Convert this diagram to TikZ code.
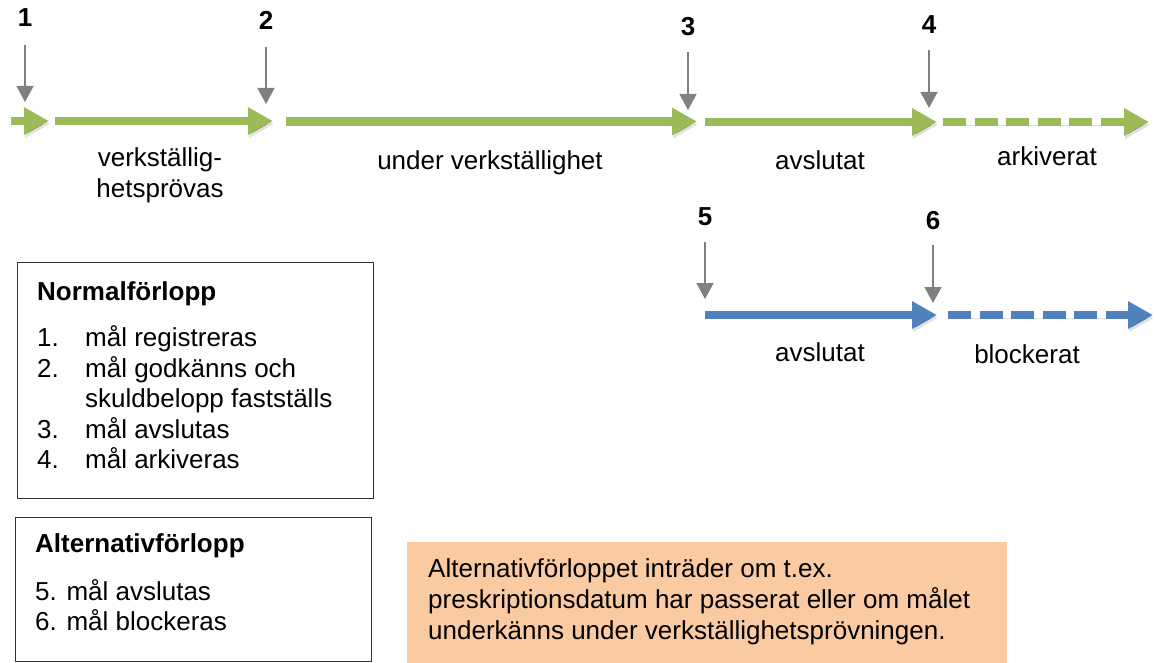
\documentclass[tikz,border=0pt]{standalone}
\usepackage{fontspec}
\setmainfont{Liberation Sans}
\usetikzlibrary{arrows.meta}
\definecolor{grn}{RGB}{155,187,89}
\definecolor{blu}{RGB}{79,129,189}
\definecolor{ptr}{RGB}{128,128,128}
\definecolor{peach}{RGB}{250,202,162}
\definecolor{frame}{RGB}{50,50,50}
\tikzset{
  phase/.style={line width=8.5pt, -{Triangle[length=25pt,width=26pt]},
    preaction={draw=black, draw opacity=0.12, transform canvas={xshift=1pt,yshift=-3pt}}},
  phasedash/.style={phase, dash pattern=on 23pt off 8.5pt},
  pointer/.style={draw=ptr, line width=1.5pt, -{Triangle[length=16pt,width=17pt]}},
  txt/.style={font=\fontsize{26}{31}\selectfont, text height=19pt, text depth=5pt, inner sep=0pt},
  head/.style={txt, font=\bfseries\fontsize{26}{31}\selectfont},
  num/.style={font=\bfseries\fontsize{26}{30}\selectfont, inner sep=0pt},
  infobox/.style={draw=frame, line width=1pt, inner sep=0pt, anchor=north west}
}
\begin{document}
\begin{tikzpicture}[x=1pt, y=-1pt]
\useasboundingbox (0,0) rectangle (1155,663);

% green timeline
\coordinate (g1s) at (11,121);  \coordinate (g1e) at (49,121);
\coordinate (g2s) at (55,121);  \coordinate (g2e) at (273,121);
\coordinate (g3s) at (286,121.5); \coordinate (g3e) at (697,121.5);
\coordinate (g4s) at (705,122); \coordinate (g4e) at (937,122);
\coordinate (g5s) at (943,122); \coordinate (g5e) at (1149,122);
\draw[phase, draw=grn, color=grn] (g1s) -- (g1e);
\draw[phase, draw=grn, color=grn] (g2s) -- (g2e);
\draw[phase, draw=grn, color=grn] (g3s) -- (g3e);
\draw[phase, draw=grn, color=grn] (g4s) -- (g4e);
\draw[phasedash, draw=grn, color=grn] (g5s) -- (g5e);

% blue timeline
\coordinate (b1s) at (705,315); \coordinate (b1e) at (937,315);
\coordinate (b2s) at (948,315); \coordinate (b2e) at (1153,315);
\draw[phase, draw=blu, color=blu] (b1s) -- (b1e);
\draw[phasedash, draw=blu, color=blu] (b2s) -- (b2e);

% numbered pointers
\node[num] (n1) at (25,18) {1};
\node[num] (n2) at (266,20) {2};
\node[num] (n3) at (688,27) {3};
\node[num] (n4) at (929,25) {4};
\node[num] (n5) at (705,217) {5};
\node[num] (n6) at (933,221) {6};
\coordinate (p1s) at (25,45);  \coordinate (p1e) at (25,102);
\coordinate (p2s) at (266,47); \coordinate (p2e) at (266,104);
\coordinate (p3s) at (688,52); \coordinate (p3e) at (688,110);
\coordinate (p4s) at (929,50); \coordinate (p4e) at (929,108);
\coordinate (p5s) at (705,242); \coordinate (p5e) at (705,299);
\coordinate (p6s) at (933,245); \coordinate (p6e) at (933,303);
\foreach \i in {1,...,6} \draw[pointer] (p\i s) -- (p\i e);

% phase labels
\node[txt] (l1a) at (160,160) {verkställig-};
\node[txt] (l1b) at (160,190) {hetsprövas};
\node[txt] (l2) at (490,163) {under verkställighet};
\node[txt] (l3) at (820,162) {avslutat};
\node[txt] (l4) at (1047,158) {arkiverat};
\node[txt] (l5) at (820,354) {avslutat};
\node[txt] (l6) at (1027,356) {blockerat};

% Normalförlopp box
\node[infobox, minimum width=356pt, minimum height=236pt] (box1) at (17,262) {};
\node[head, anchor=west] (h1) at (37,293) {Normalförlopp};
\node[txt, anchor=west] (i1n) at (37,339) {1.};
\node[txt, anchor=west] (i1t) at (85,339) {mål registreras};
\node[txt, anchor=west] (i2n) at (37,370) {2.};
\node[txt, anchor=west] (i2t) at (85,370) {mål godkänns och};
\node[txt, anchor=west] (i2u) at (85,400) {skuldbelopp fastställs};
\node[txt, anchor=west] (i3n) at (37,431) {3.};
\node[txt, anchor=west] (i3t) at (85,431) {mål avslutas};
\node[txt, anchor=west] (i4n) at (37,461) {4.};
\node[txt, anchor=west] (i4t) at (85,461) {mål arkiveras};

% Alternativförlopp box
\node[infobox, minimum width=356pt, minimum height=144pt] (box2) at (15,517) {};
\node[head, anchor=west] (h2) at (35,545) {Alternativförlopp};
\node[txt, anchor=west] (i5) at (35,593) {5. mål avslutas};
\node[txt, anchor=west] (i6) at (35,623) {6. mål blockeras};

% note
\node[fill=peach, inner sep=0pt, anchor=north west, minimum width=600pt, minimum height=121pt] (note) at (407,542) {};
\node[txt, anchor=west] (t1) at (428,570) {Alternativförloppet inträder om t.ex.};
\node[txt, anchor=west] (t2) at (428,601) {preskriptionsdatum har passerat eller om målet};
\node[txt, anchor=west] (t3) at (428,632) {underkänns under verkställighetsprövningen.};
\end{tikzpicture}
\end{document}
